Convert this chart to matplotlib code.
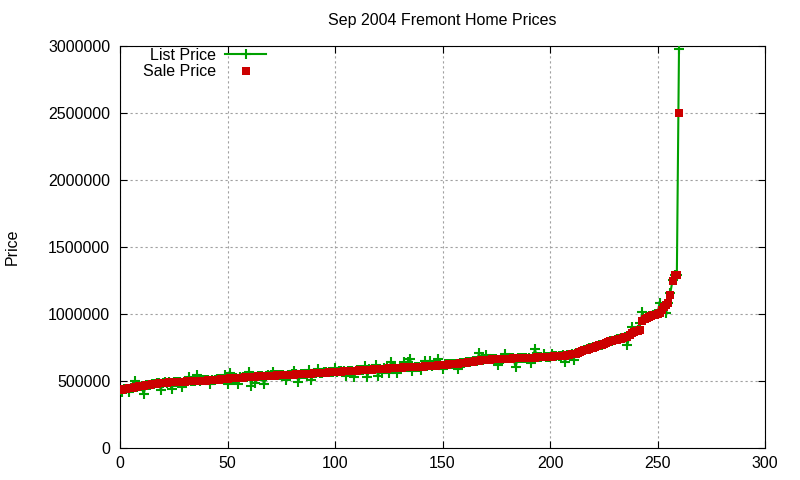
import matplotlib
matplotlib.use("Agg")
import matplotlib.pyplot as plt
import numpy as np

plt.rcParams['font.family'] = ['Liberation Sans', 'DejaVu Sans']

title = "Sep 2004 Fremont Home Prices"
ylabel = "Price"
x_ticks = [0, 50, 100, 150, 200, 250, 300]
y_ticks = [0, 500000, 1000000, 1500000, 2000000, 2500000, 3000000]

# Sale prices in thousands of dollars, sorted (index 0..260)
sale_k = [
    430, 435, 438, 441, 445, 448, 450, 453, 456, 459,
    462, 465, 467, 469, 472, 474, 476, 479, 482, 485,
    486, 487, 488, 489, 490, 491, 492, 493, 494, 495,
    496, 497, 498, 499, 499, 500, 500, 501, 502, 503,
    503, 504, 505, 506, 507, 509, 510, 512, 514, 516,
    518, 520, 521, 522, 523, 524, 525, 526, 527, 528,
    529, 530, 532, 533, 534, 535, 536, 537, 539, 540,
    540, 541, 541, 542, 543, 543, 544, 545, 545, 546,
    547, 548, 549, 549, 550, 551, 552, 553, 554, 555,
    556, 557, 558, 559, 560, 562, 563, 564, 565, 566,
    567, 568, 569, 570, 571, 572, 573, 574, 575, 576,
    578, 579, 580, 581, 582, 583, 584, 585, 586, 588,
    589, 590, 591, 592, 593, 594, 595, 596, 597, 598,
    599, 600, 601, 601, 602, 603, 604, 605, 606, 606,
    607, 608, 609, 610, 611, 612, 614, 615, 617, 619,
    620, 622, 623, 624, 625, 626, 628, 630, 632, 634,
    636, 638, 640, 642, 644, 648, 650, 652, 653, 655,
    657, 659, 660, 661, 662, 663, 664, 665, 665, 666,
    666, 667, 667, 668, 668, 669, 669, 670, 670, 671,
    672, 673, 674, 675, 676, 677, 678, 679, 679, 680,
    680, 681, 683, 684, 685, 687, 689, 690, 692, 695,
    698, 701, 705, 710, 716, 722, 728, 735, 742, 746,
    750, 755, 760, 765, 770, 775, 782, 789, 796, 800,
    804, 808, 812, 817, 820, 826, 830, 840, 855, 865,
    870, 875, 880, 950, 960, 970, 980, 985, 990, 995,
    1000, 1010, 1030, 1050, 1070, 1080, 1140, 1250, 1290, 1290,
    2500,
]

# List prices in thousands of dollars (same homes, same order)
list_k = [
    432, 418, 440, 443, 420, 450, 452, 498, 455, 462,
    465, 400, 470, 472, 470, 478, 480, 482, 485, 435,
    488, 490, 485, 489, 438, 493, 495, 490, 496, 455,
    498, 500, 528, 500, 502, 503, 543, 503, 505, 505,
    505, 506, 478, 508, 510, 512, 512, 515, 516, 545,
    475, 557, 523, 524, 525, 475, 527, 528, 529, 530,
    570, 465, 534, 487, 536, 537, 538, 475, 541, 542,
    542, 570, 543, 544, 545, 546, 545, 507, 547, 548,
    549, 575, 551, 495, 552, 553, 554, 555, 582, 507,
    558, 559, 590, 561, 562, 564, 565, 566, 567, 568,
    600, 570, 571, 572, 573, 540, 575, 576, 577, 532,
    580, 581, 582, 583, 614, 532, 586, 587, 588, 620,
    535, 592, 557, 594, 595, 557, 644, 598, 599, 562,
    601, 602, 644, 603, 644, 662, 575, 607, 608, 608,
    580, 610, 650, 612, 650, 614, 616, 617, 664, 621,
    587, 624, 625, 626, 627, 628, 630, 587, 634, 636,
    638, 640, 642, 644, 646, 650, 652, 707, 655, 657,
    695, 661, 662, 663, 664, 665, 620, 667, 667, 700,
    668, 669, 669, 670, 602, 671, 671, 672, 672, 673,
    674, 632, 676, 737, 678, 679, 680, 700, 681, 682,
    682, 700, 685, 686, 687, 689, 691, 644, 694, 697,
    700, 660, 707, 712, 718, 724, 730, 737, 744, 748,
    752, 757, 762, 767, 772, 777, 784, 791, 798, 802,
    806, 810, 814, 819, 822, 828, 770, 842, 900, 867,
    872, 877, 930, 1017, 962, 972, 982, 987, 992, 997,
    1002, 1085, 1032, 1052, 1007, 1082, 1160, 1252, 1292, 1292,
    2980,
]

sale = np.array(sale_k) * 1000
listp = np.array(list_k) * 1000
idx = np.arange(len(sale))

fig = plt.figure(figsize=(8, 4.8), dpi=100)
ax = fig.add_axes([120/800, 1-448/480, 645/800, 402/480])

green = '#00a000'
red = '#cc0000'

ax.plot(idx, listp, color=green, lw=1.5, marker='+', markersize=7,
        markeredgewidth=1.5, label='List Price', zorder=3)
ax.plot(idx, sale, linestyle='none', color=red, marker='s', markersize=6.3,
        markeredgewidth=0, label='Sale Price', zorder=4)

ax.set_xlim(0, 300)
ax.set_ylim(0, 3000000)
ax.set_xticks(x_ticks)
ax.set_yticks(y_ticks)
ax.set_xticklabels([str(v) for v in x_ticks])
ax.set_yticklabels([str(v) for v in y_ticks])
ax.tick_params(direction='in', top=True, right=True, length=5, width=0.8,
               labelsize=11.5, colors='black')
ax.tick_params(axis='x', pad=6)
ax.tick_params(axis='y', pad=7)
for s in ax.spines.values():
    s.set_linewidth(0.8)
    s.set_color('black')

ax.grid(True, color='#a0a0a0', linestyle=(0, (2, 2.5)), linewidth=0.8)
ax.set_axisbelow(True)

fig.text(442/800, 1-20/480, title, ha='center', va='center', fontsize=11.5)
fig.text(12/800, 1-247/480, ylabel, rotation=90, ha='center', va='center', fontsize=11.5)

leg = ax.legend(loc='upper right', bbox_to_anchor=(266/800, 1-48/480),
                bbox_transform=fig.transFigure, frameon=False, markerfirst=False,
                fontsize=11.5, handlelength=2.56, handletextpad=0.56,
                borderpad=0, borderaxespad=0, labelspacing=0.08, numpoints=1)
for t in leg.get_texts():
    t.set_ha('right')

fig.savefig('out.png', dpi=100)
